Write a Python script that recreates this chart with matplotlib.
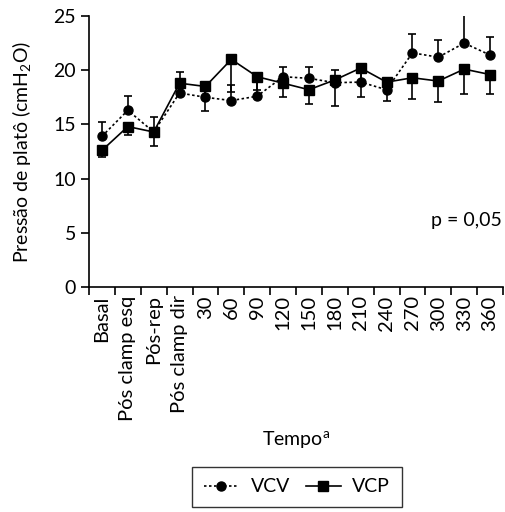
import matplotlib
matplotlib.use("Agg")
import matplotlib.pyplot as plt
from matplotlib.lines import Line2D
import numpy as np

plt.rcParams['font.family'] = ['Lato', 'DejaVu Sans']
plt.rcParams['mathtext.fontset'] = 'custom'
plt.rcParams['mathtext.rm'] = 'Lato'

# Dados
tempos = ["Basal", "Pós clamp esq", "Pós-rep", "Pós clamp dir", "30", "60", "90",
          "120", "150", "180", "210", "240", "270", "300", "330", "360"]
vcv = [13.9, 16.3, 14.3, 17.9, 17.5, 17.2, 17.6, 19.4, 19.25, 18.85, 18.9, 18.2,
       21.6, 21.2, 22.5, 21.4]
vcv_sup = [15.2, 17.6, 15.7, 19.8, 18.5, 18.6, 19.3, 20.3, 20.3, 20.0, 20.0, 18.8,
           23.3, 22.8, 25.3, 23.1]
vcp = [12.6, 14.8, 14.3, 18.8, 18.5, 21.0, 19.4, 18.8, 18.2, 19.1, 20.2, 18.9,
       19.3, 19.0, 20.1, 19.6]
vcp_inf = [12.0, 14.0, 13.0, 17.6, 16.2, 18.0, 18.2, 17.5, 16.9, 16.7, 17.5, 17.2,
           17.3, 17.1, 17.8, 17.8]

x = np.arange(len(tempos))
vcv = np.array(vcv)
vcp = np.array(vcp)
err_vcv = [np.zeros(len(x)), np.array(vcv_sup) - vcv]
err_vcp = [vcp - np.array(vcp_inf), np.zeros(len(x))]

fs = 14

fig = plt.figure(figsize=(5.05, 5.12), dpi=100)
ax = fig.add_axes([89/505, 1 - 287/512, 414/505, 271/512])

ax.errorbar(x, vcv, yerr=err_vcv, fmt='o', ls=(0, (1.5, 1.5)), color='black', lw=1.2,
            ms=6.5, capsize=3, elinewidth=1.2, capthick=1.2, zorder=3)
ax.errorbar(x, vcp, yerr=err_vcp, fmt='s', ls='-', color='black', lw=1.2,
            ms=6.5, capsize=3, elinewidth=1.2, capthick=1.2, zorder=3)

ax.set_xlim(-0.5, len(x) - 0.5)
ax.set_ylim(0, 25)
ax.set_yticks([0, 5, 10, 15, 20, 25])
ax.set_xticks(np.arange(-0.5, len(x), 1))
ax.set_xticklabels([])
ax.set_xticks(x, minor=True)
ax.set_xticklabels(tempos, minor=True, rotation=90)
ax.tick_params(axis='x', which='minor', length=0, pad=6, labelsize=14.5)
ax.tick_params(axis='x', which='major', length=6, width=1.2, direction='out')
ax.tick_params(axis='y', length=6, width=1.2, direction='out', labelsize=fs)

for s in ['top', 'right']:
    ax.spines[s].set_visible(False)
for s in ['left', 'bottom']:
    ax.spines[s].set_linewidth(1.2)

ax.set_ylabel("Pressão de platô (cmH$_2$O)", fontsize=fs, labelpad=14)
fig.text(296/505, 1 - 440/512, "Tempo$^{\\mathrm{a}}$", ha='center', va='center', fontsize=fs)
ax.text(15.45, 6.1, "p = 0,05", ha='right', va='center', fontsize=fs)

handles = [Line2D([], [], color='black', ls=(0, (1.5, 1.5)), lw=1.2, marker='o', ms=6.5),
           Line2D([], [], color='black', ls='-', lw=1.2, marker='s', ms=6.5)]
leg = fig.legend(handles, ['VCV', 'VCP'], loc='center',
                 bbox_to_anchor=(297/505, 1 - 487/512), ncol=2,
                 frameon=True, fancybox=False, edgecolor='black', fontsize=fs,
                 handlelength=1.8, handletextpad=0.6, columnspacing=0.8, borderpad=0.6)
leg.get_frame().set_linewidth(1.0)

fig.savefig("out.png", dpi=100)
